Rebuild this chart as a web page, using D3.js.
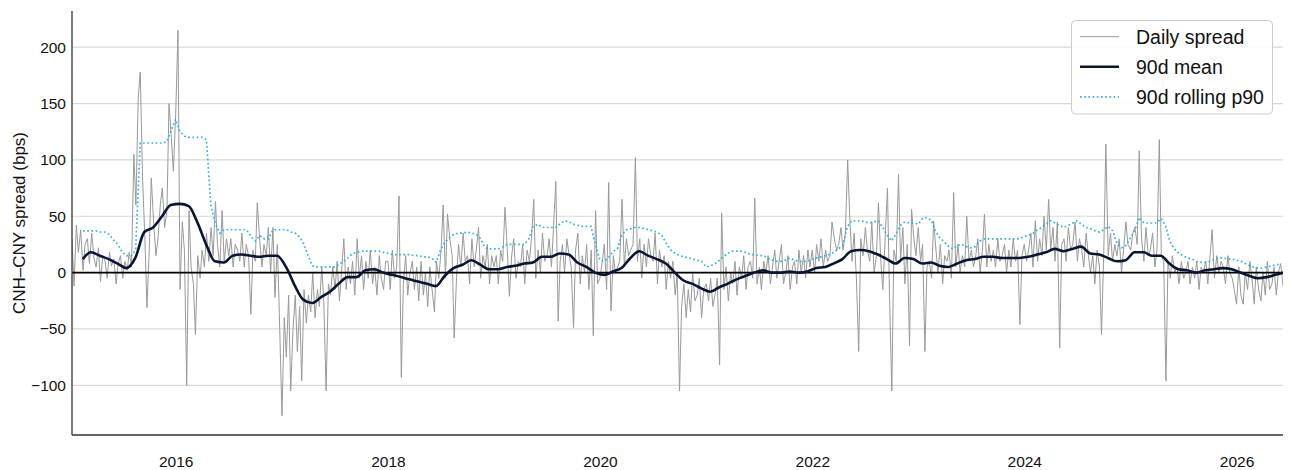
<!DOCTYPE html>
<html>
<head>
<meta charset="utf-8">
<script src="https://cdn.jsdelivr.net/npm/d3@7"></script>
<style>
    body { margin: 0; background: #fff; }
    svg { display: block; font-family: "Liberation Sans", Arial, Helvetica, sans-serif; }
</style>
</head>
<body>
<svg id="chart"></svg>
<script>
// CNH-CNY spread (bps), one sample per ~week (48 per calendar year)
var spread2015 = [30, -12, 42, 18, 38, 2, 25, 30, 8, 35, 12, 5, 22, -8, 15, 10, -5, 18, 6, 12, -10, 8, 15,
    -5, 10, 2, 18, 5, 105, 60, 155, 178, 84, 30, -31, 20, 84, 45, 15, 30, 60, 75, 40, 55, 150, 120, 90];
var spread2016 = [140, 215, -15, 45, 20, -100, 55, 5, -10, -55, 15, -5, 20, 5, 35, 10, 40, 15, 63, 25, 5, 55, 10, 30,
    15, 30, 5, 25, 20, 10, 35, 5, 25, 15, -37, 20, 10, 62, 30, 5, 25, 15, 40, 0, 40, -22, 25, -37];
var spread2017 = [-127, -40, -75, -20, -105, -50, -20, -70, -30, -96, -15, -45, -20, -35, 0, -40, -15, -30, 5, -25, -105, -10, -20, 5,
    -15, 10, -25, 0, 30, -15, 5, -10, 10, -20, 30, -5, 15, -15, 10, -5, 20, -10, 5, -20, 15, -5, -15, 10];
var spread2018 = [10, -15, 20, -5, 5, 68, -93, -10, 15, -20, 0, 10, -15, 5, -25, 10, -20, 0, -30, 5, -15, -35, 10, -5,
    20, 60, -5, 52, 30, 15, -58, -5, 25, 5, 35, 10, 15, -10, 30, 5, 20, 40, -5, 15, 5, 25, -10, 15];
var spread2019 = [5, 15, -10, 20, 10, 58, 20, -21, 15, 30, -5, 10, 5, 25, -10, 20, 10, 30, 65, -5, 20, 0, 35, 10,
    15, 30, 5, 40, 81, -43, 10, 25, 0, 30, 15, 5, -49, 20, 35, -10, 15, 0, 25, -15, 20, -56, 55, -10];
var spread2020 = [-5, 10, 25, -15, 80, -34, 15, 0, 5, 10, 65, 5, 30, 15, 20, 25, 102, 10, 30, -5, 25, 5, 30, 15,
    10, 35, -10, 20, 5, 15, -15, 10, -5, 10, -20, 0, -105, -30, -10, -40, -15, -35, 0, -25, -20, -5, -40, -15];
var spread2021 = [-10, -25, -5, -30, -20, -5, -82, 53, -15, 5, -25, 0, -10, 10, -20, 5, -5, 15, -15, 5, 10, -5, 66, -10,
    5, -15, 10, 0, 15, -10, 5, 20, -5, 10, 25, -10, 0, 15, -15, 5, 10, -10, 20, 0, 15, -5, 20, 5];
var spread2022 = [20, 0, 25, 10, 30, 5, 20, 10, 15, 45, 30, 20, 25, 40, 20, 35, 100, 50, 10, 35, -5, -70, 30, 15,
    40, 20, 10, 45, 0, 15, 62, 10, -15, 30, 75, -20, -105, 20, 10, 87, 10, 40, -10, 25, -65, 56, 30, 15];
var spread2023 = [40, 10, 25, -70, 5, 10, -5, 46, 20, 0, 25, -10, 15, 10, 20, -5, 71, 5, 25, 0, 15, 5, 50, 10,
    20, 5, 15, 30, 0, 20, 52, 5, 25, 10, 20, 5, 30, 10, 15, 25, 0, 20, 5, 30, 10, 20, -46, 15];
var spread2024 = [25, 10, 20, 35, 5, 46, 10, 30, 15, 50, 20, 65, 20, 40, 10, 45, -67, 25, 30, 10, 40, 20, 25, 45,
    10, 30, 20, 5, 35, 15, 0, 15, -10, 20, 5, -55, 20, 114, 15, 35, 10, 25, 15, 30, 0, 20, 45, 25];
var spread2025 = [20, 35, 40, 25, 108, 30, 10, 40, 15, 20, 35, 5, 20, 118, 15, 10, -96, 10, -5, 15, 0, 5, -10, 10,
    -5, 0, 10, -10, 5, -5, 10, -15, 5, 0, 10, -10, 15, 38, -5, 15, 0, 10, 5, -10, 15, 0, -5, -15];
var spread2026 = [-28, 5, -20, -28, 0, -15, 10, -5, -28, 5, -15, -25, 0, -20, 10, -15, -10, 5, -20, 0, 8, -12];

// 90-day rolling mean, mid-month
var mean2015 = [12, 18, 15, 12, 8, 4, 13, 36, 40, 50, 60];
var mean2016 = [61, 59, 45, 25, 10, 9, 15, 16, 15, 14, 15, 15];
var mean2017 = [5, -12, -24, -27, -22, -17, -10, -4, -4, 2, 3, 0];
var mean2018 = [-2, -4, -6, -8, -10, -12, -3, 4, 7, 11, 7, 3];
var mean2019 = [3, 5, 6, 8, 9, 14, 14, 17, 16, 9, 5, 0];
var mean2020 = [-2, 1, 4, 13, 19, 15, 12, 8, 0, -7, -10, -14];
var mean2021 = [-17, -13, -10, -6, -3, 0, 2, 0, 0, 1, 0, 1];
var mean2022 = [4, 5, 8, 12, 19, 20, 19, 16, 12, 8, 13, 12];
var mean2023 = [8, 9, 6, 5, 8, 11, 12, 14, 14, 13, 13, 13];
var mean2024 = [14, 16, 18, 21, 19, 21, 23, 17, 16, 13, 10, 11];
var mean2025 = [18, 18, 15, 15, 8, 3, 2, 0, 2, 3, 4, 3];
var mean2026 = [0, -3, -5, -4, -2, 0];

// 90-day rolling 90th percentile, 1st and 16th of each month
var p90_2015 = [37, 37, 37, 37, 36, 36, 34, 29, 25, 18, 15, 15, 20, 115, 115, 115, 115, 115, 115, 116, 126];
var p90_2016 = [136, 125, 121, 120, 120, 120, 120, 118, 60, 44, 35, 38, 38, 38, 38, 38, 38, 32, 28, 33, 30, 30, 38, 38];
var p90_2017 = [38, 38, 36, 35, 32, 26, 15, 6, 5, 5, 5, 5, 5, 7, 10, 13, 17, 18, 19, 19, 19, 19, 19, 18];
var p90_2018 = [17, 16, 16, 16, 16, 16, 15, 15, 14, 14, 13, 9, 20, 27, 31, 34, 35, 35, 36, 35, 34, 30, 22, 21];
var p90_2019 = [21, 21, 23, 25, 25, 25, 25, 25, 30, 41, 43, 40, 40, 40, 40, 43, 46, 45, 43, 42, 41, 41, 41, 25];
var p90_2020 = [11, 10, 14, 19, 21, 33, 38, 39, 40, 40, 39, 38, 37, 36, 33, 26, 20, 17, 15, 14, 13, 12, 11, 10];
var p90_2021 = [5, 6, 8, 11, 14, 17, 19, 19, 19, 18, 16, 16, 15, 15, 13, 11, 10, 10, 11, 13, 11, 10, 10, 10];
var p90_2022 = [12, 13, 14, 15, 16, 18, 21, 24, 40, 46, 46, 46, 45, 44, 45, 46, 40, 33, 28, 34, 42, 45, 44, 44];
var p90_2023 = [43, 48, 49, 46, 37, 31, 27, 23, 21, 24, 25, 23, 22, 23, 28, 30, 30, 30, 30, 30, 30, 30, 30, 30];
var p90_2024 = [32, 33, 35, 38, 40, 43, 46, 44, 42, 40, 42, 44, 46, 43, 40, 39, 37, 36, 38, 41, 37, 25, 22, 24];
var p90_2025 = [31, 38, 49, 44, 44, 44, 44, 48, 42, 28, 21, 17, 15, 13, 12, 10, 9, 9, 10, 12, 13, 13, 12, 12];
var p90_2026 = [11, 10, 8, 6, 5, 4, 4, 5, 6, 7, 7];

var yTicks = [-100, -50, 0, 50, 100, 150, 200];
var legendLabels = ["Daily spread", "90d mean", "90d rolling p90"];

// [year, first slot index, values]
var spreadParts = [[2015, 1, spread2015], [2016, 0, spread2016], [2017, 0, spread2017], [2018, 0, spread2018],
    [2019, 0, spread2019], [2020, 0, spread2020], [2021, 0, spread2021], [2022, 0, spread2022],
    [2023, 0, spread2023], [2024, 0, spread2024], [2025, 0, spread2025], [2026, 0, spread2026]];
var meanParts = [[2015, 1, mean2015], [2016, 0, mean2016], [2017, 0, mean2017], [2018, 0, mean2018],
    [2019, 0, mean2019], [2020, 0, mean2020], [2021, 0, mean2021], [2022, 0, mean2022],
    [2023, 0, mean2023], [2024, 0, mean2024], [2025, 0, mean2025], [2026, 0, mean2026]];
var p90Parts = [[2015, 3, p90_2015], [2016, 0, p90_2016], [2017, 0, p90_2017], [2018, 0, p90_2018],
    [2019, 0, p90_2019], [2020, 0, p90_2020], [2021, 0, p90_2021], [2022, 0, p90_2022],
    [2023, 0, p90_2023], [2024, 0, p90_2024], [2025, 0, p90_2025], [2026, 0, p90_2026]];

var daily = [], mean = [], p90 = [];
spreadParts.forEach(function (p) {
    p[2].forEach(function (v, i) {
        daily.push({ date: d3.timeDay.offset(new Date(p[0], 0, 1), Math.round((i + p[1]) * 365 / 48)), value: v });
    });
});
meanParts.forEach(function (p) {
    p[2].forEach(function (v, i) {
        mean.push({ date: new Date(p[0], p[1] + i, 15), value: v });
    });
});
p90Parts.forEach(function (p) {
    p[2].forEach(function (v, i) {
        var k = p[1] + i;
        p90.push({ date: new Date(p[0], Math.floor(k / 2), k % 2 ? 16 : 1), value: v });
    });
});

var width = 1291, height = 470;
var margin = { top: 11, right: 8, bottom: 35, left: 72 };

var svg = d3.select("#chart").attr("width", width).attr("height", height);

var x = d3.scaleTime()
    .domain(d3.extent(daily, function (d) { return d.date; }))
    .range([margin.left, width - margin.right]);

var ext = d3.extent(daily, function (d) { return d.value; });
var pad = (ext[1] - ext[0]) * 0.05;
var y = d3.scaleLinear()
    .domain([ext[0] - pad, ext[1] + pad])
    .range([height - margin.bottom, margin.top]);

svg.append("defs").append("clipPath").attr("id", "plot")
    .append("rect")
    .attr("x", margin.left).attr("y", margin.top)
    .attr("width", width - margin.left - margin.right)
    .attr("height", height - margin.top - margin.bottom);

// grid
svg.append("g")
    .selectAll("line")
    .data(yTicks)
    .enter().append("line")
    .attr("x1", margin.left).attr("x2", width - margin.right)
    .attr("y1", function (d) { return y(d); }).attr("y2", function (d) { return y(d); })
    .attr("stroke", "#d9d9d9").attr("stroke-width", 1.2);

var line = d3.line()
    .x(function (d) { return x(d.date); })
    .y(function (d) { return y(d.value); });

var plot = svg.append("g").attr("clip-path", "url(#plot)");

plot.append("path")
    .attr("d", line(daily))
    .attr("fill", "none")
    .attr("stroke", "#999")
    .attr("stroke-width", 1);

plot.append("line")
    .attr("x1", margin.left).attr("x2", width - margin.right)
    .attr("y1", y(0)).attr("y2", y(0))
    .attr("stroke", "#000").attr("stroke-width", 1.6);

plot.append("path")
    .attr("d", line.curve(d3.curveMonotoneX)(mean))
    .attr("fill", "none")
    .attr("stroke", "#0b1533")
    .attr("stroke-width", 2.6);

plot.append("path")
    .attr("d", line.curve(d3.curveLinear)(p90))
    .attr("fill", "none")
    .attr("stroke", "#2db4da")
    .attr("stroke-width", 1.7)
    .attr("stroke-dasharray", "1.7,2.5");

// axes
var yAxis = svg.append("g")
    .attr("transform", "translate(" + margin.left + ",0)")
    .call(d3.axisLeft(y).tickValues(yTicks).tickSize(0).tickPadding(6).tickFormat(d3.format("d")));
yAxis.select(".domain").remove();

var xAxis = svg.append("g")
    .attr("transform", "translate(0," + (height - margin.bottom) + ")")
    .call(d3.axisBottom(x).ticks(d3.timeYear.every(2)).tickSize(0).tickPadding(21).tickFormat(d3.timeFormat("%Y")));
xAxis.select(".domain").remove();

svg.selectAll(".tick text")
    .attr("font-size", "15.5px")
    .attr("font-family", "Liberation Sans, Arial, sans-serif")
    .attr("fill", "#111");

svg.append("line")
    .attr("x1", margin.left).attr("x2", margin.left)
    .attr("y1", margin.top).attr("y2", height - margin.bottom)
    .attr("stroke", "#333").attr("stroke-width", 1.3);
svg.append("line")
    .attr("x1", margin.left).attr("x2", width - margin.right)
    .attr("y1", height - margin.bottom).attr("y2", height - margin.bottom)
    .attr("stroke", "#333").attr("stroke-width", 1.3);

svg.append("text")
    .attr("transform", "translate(19," + ((margin.top + height - margin.bottom) / 2) + ") rotate(-90)")
    .attr("text-anchor", "middle")
    .attr("dy", "0.35em")
    .attr("font-size", "17px")
    .attr("fill", "#111")
    .text("CNH\u2013CNY spread (bps)");

// legend
var legend = svg.append("g").attr("transform", "translate(1071.5,20.5)");
legend.append("rect")
    .attr("width", 201).attr("height", 93.5).attr("rx", 4)
    .attr("fill", "#fff").attr("fill-opacity", 0.9)
    .attr("stroke", "#cccccc").attr("stroke-width", 1);

var legendStyles = [
    { stroke: "#999", width: 1, dash: null },
    { stroke: "#0b1533", width: 2.6, dash: null },
    { stroke: "#2db4da", width: 1.7, dash: "1.7,2.5" }
];

var item = legend.selectAll("g.item")
    .data(legendLabels)
    .enter().append("g")
    .attr("class", "item")
    .attr("transform", function (d, i) { return "translate(0," + (16.2 + i * 30.1) + ")"; });

item.append("line")
    .attr("x1", 8.5).attr("x2", 47.5)
    .attr("stroke", function (d, i) { return legendStyles[i].stroke; })
    .attr("stroke-width", function (d, i) { return legendStyles[i].width; })
    .attr("stroke-dasharray", function (d, i) { return legendStyles[i].dash; });

item.append("text")
    .attr("x", 64.5)
    .attr("y", 7)
    .attr("font-size", "19.5px")
    .attr("fill", "#111")
    .text(function (d) { return d; });
</script>
</body>
</html>
